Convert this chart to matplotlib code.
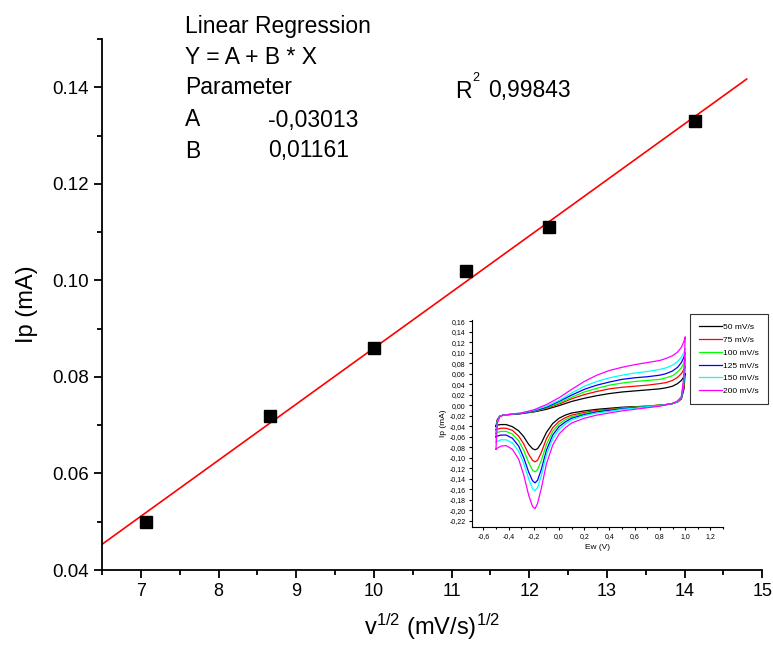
import numpy as np
import matplotlib
matplotlib.use("Agg")
import matplotlib.pyplot as plt
from matplotlib.ticker import MultipleLocator, FuncFormatter

plt.rcParams['font.family'] = ['Liberation Sans', 'DejaVu Sans']

# main plot: peak current vs square root of scan rate
sqrt_v = [7.07, 8.66, 10.0, 11.18, 12.25, 14.14]
ip = [0.050, 0.072, 0.086, 0.102, 0.111, 0.133]
fit_A = -0.03013
fit_B = 0.01161
fit_R2 = "0,99843"

# inset: cyclic voltammograms
rates = ["50 mV/s", "75 mV/s", "100 mV/s", "125 mV/s", "150 mV/s", "200 mV/s"]
colors = ["#000000", "#ff0000", "#00ff00", "#0000ff", "#00ffff", "#ff00ff"]

E_fwd = [-0.50, -0.49, -0.47, -0.44, -0.40, -0.30, -0.20, -0.10, 0.00, 0.10, 0.20, 0.30,
         0.40, 0.50, 0.60, 0.70, 0.80, 0.85, 0.90, 0.94, 0.97, 0.99, 1.00]
I_fwd = [
    [-0.040, -0.028, -0.021, -0.019, -0.018, -0.016, -0.013, -0.008, -0.001, 0.007, 0.013, 0.018,
     0.022, 0.025, 0.027, 0.029, 0.031, 0.033, 0.036, 0.041, 0.047, 0.054, 0.060],
    [-0.047, -0.030, -0.021, -0.019, -0.018, -0.016, -0.012, -0.006, 0.002, 0.012, 0.020, 0.026,
     0.031, 0.034, 0.036, 0.038, 0.041, 0.043, 0.047, 0.053, 0.060, 0.068, 0.075],
    [-0.054, -0.031, -0.021, -0.019, -0.018, -0.016, -0.012, -0.005, 0.004, 0.015, 0.025, 0.032,
     0.038, 0.042, 0.045, 0.047, 0.049, 0.052, 0.056, 0.063, 0.071, 0.080, 0.088],
    [-0.061, -0.032, -0.021, -0.019, -0.018, -0.016, -0.011, -0.004, 0.007, 0.019, 0.030, 0.038,
     0.044, 0.049, 0.052, 0.054, 0.057, 0.060, 0.065, 0.072, 0.081, 0.091, 0.100],
    [-0.071, -0.033, -0.021, -0.019, -0.018, -0.015, -0.010, -0.002, 0.009, 0.023, 0.036, 0.045,
     0.052, 0.057, 0.061, 0.064, 0.068, 0.071, 0.076, 0.083, 0.091, 0.100, 0.108],
    [-0.084, -0.035, -0.022, -0.019, -0.018, -0.015, -0.009, 0.001, 0.014, 0.030, 0.045, 0.057,
     0.066, 0.072, 0.077, 0.081, 0.085, 0.089, 0.094, 0.101, 0.110, 0.121, 0.130],
]

E_rev = [1.00, 0.99, 0.97, 0.94, 0.90, 0.85, 0.80, 0.70, 0.60, 0.50, 0.40, 0.30, 0.20, 0.10,
         0.05, 0.00, -0.05, -0.10, -0.14, -0.17, -0.19, -0.21, -0.24, -0.28, -0.32, -0.37,
         -0.42, -0.46, -0.49, -0.50]
I_rev = [
    [0.060, 0.030, 0.012, 0.006, 0.003, 0.001, 0.000, -0.002, -0.003, -0.004, -0.006, -0.008,
     -0.011, -0.015, -0.019, -0.025, -0.035, -0.052, -0.072, -0.083, -0.085, -0.083, -0.075,
     -0.060, -0.049, -0.041, -0.037, -0.037, -0.038, -0.040],
    [0.075, 0.035, 0.012, 0.006, 0.003, 0.001, 0.000, -0.002, -0.004, -0.005, -0.008, -0.010,
     -0.014, -0.019, -0.024, -0.031, -0.043, -0.064, -0.090, -0.105, -0.108, -0.105, -0.094,
     -0.074, -0.059, -0.048, -0.044, -0.044, -0.046, -0.047],
    [0.088, 0.040, 0.013, 0.006, 0.003, 0.001, 0.000, -0.002, -0.004, -0.006, -0.009, -0.012,
     -0.016, -0.022, -0.028, -0.036, -0.050, -0.075, -0.105, -0.123, -0.127, -0.124, -0.110,
     -0.086, -0.068, -0.055, -0.050, -0.050, -0.052, -0.054],
    [0.100, 0.045, 0.014, 0.007, 0.003, 0.001, -0.001, -0.003, -0.005, -0.007, -0.010, -0.013,
     -0.018, -0.025, -0.032, -0.041, -0.057, -0.086, -0.122, -0.143, -0.148, -0.144, -0.128,
     -0.100, -0.078, -0.063, -0.057, -0.057, -0.059, -0.061],
    [0.108, 0.048, 0.015, 0.007, 0.003, 0.001, -0.001, -0.003, -0.006, -0.008, -0.012, -0.015,
     -0.020, -0.028, -0.036, -0.046, -0.064, -0.095, -0.134, -0.157, -0.163, -0.159, -0.141,
     -0.111, -0.088, -0.072, -0.066, -0.066, -0.069, -0.071],
    [0.130, 0.055, 0.016, 0.008, 0.003, 0.001, -0.002, -0.005, -0.008, -0.011, -0.015, -0.019,
     -0.025, -0.034, -0.043, -0.055, -0.076, -0.112, -0.158, -0.187, -0.197, -0.193, -0.172,
     -0.133, -0.103, -0.084, -0.077, -0.078, -0.082, -0.084],
]

fig = plt.figure(figsize=(7.73, 6.5), dpi=100)
ax = fig.add_axes([0.132, 0.123, 0.854, 0.817])

xfit = np.array([6.5, 14.8])
ax.plot(xfit, fit_A + fit_B * xfit, color="red", lw=1.2, zorder=2)
ax.plot(sqrt_v, ip, "s", color="black", ms=8, zorder=3)

ax.set_xlim(6.5, 15)
ax.set_ylim(0.04, 0.15)
ax.xaxis.set_major_locator(MultipleLocator(1))
ax.xaxis.set_minor_locator(MultipleLocator(0.5))
ax.yaxis.set_minor_locator(MultipleLocator(0.01))
ax.set_yticks([0.04, 0.06, 0.08, 0.10, 0.12, 0.14])
ax.yaxis.set_major_formatter(FuncFormatter(lambda v, p: "%.2f" % v))
for s in ["top", "right"]:
    ax.spines[s].set_visible(False)
for s in ["left", "bottom"]:
    ax.spines[s].set_linewidth(1.3)
ax.tick_params(which="major", direction="out", length=6, width=1.3, labelsize=13.5)
ax.tick_params(axis="x", which="major", labelsize=13)
ax.tick_params(which="minor", direction="out", length=3.5, width=1.3)
ax.set_xlabel(r"$\mathregular{v^{1/2}}$ (mV/s)$\mathregular{^{1/2}}$", fontsize=17, labelpad=8)
ax.set_ylabel("Ip (mA)", fontsize=17, labelpad=10)

# regression text block
tx = 185 / 773
rows = [27, 58, 88, 120, 151]
def fy(py):
    return 1 - py / 650
fig.text(tx, fy(rows[0]), "Linear Regression", fontsize=16.5, va="center")
fig.text(tx, fy(rows[1]), "Y = A + B * X", fontsize=16.5, va="center")
fig.text(tx, fy(rows[2]), "Parameter", fontsize=16.5, va="center")
fig.text(tx, fy(rows[3]), "A", fontsize=16.5, va="center")
fig.text(268 / 773, fy(rows[3]), "-0,03013", fontsize=16.5, va="center")
fig.text(tx, fy(rows[4]), "B", fontsize=16.5, va="center")
fig.text(268 / 773, fy(rows[4]), "0,01161", fontsize=16.5, va="center")
fig.text(455 / 773, fy(91), "R", fontsize=16.5, va="center")
fig.text(472 / 773, fy(78), "2", fontsize=9, va="center")
fig.text(488 / 773, fy(91), fit_R2, fontsize=16.5, va="center")

# inset
axi = fig.add_axes([472 / 773, 1 - 527 / 650, 251 / 773, 207 / 650])
for k in range(len(rates)):
    E = E_fwd + E_rev
    I = I_fwd[k] + I_rev[k]
    axi.plot(E, I, color=colors[k], lw=0.9, label=rates[k])
axi.set_xlim(-0.69, 1.3)
axi.set_ylim(-0.232, 0.162)
axi.xaxis.set_minor_locator(MultipleLocator(0.1))
axi.set_xticks(np.arange(-0.6, 1.21, 0.2))
axi.set_yticks(np.arange(-0.22, 0.161, 0.02))
axi.xaxis.set_major_formatter(FuncFormatter(lambda v, p: ("%.1f" % v).replace(".", ",").replace("-0,0", "0,0")))
axi.yaxis.set_major_formatter(FuncFormatter(lambda v, p: ("%.2f" % v).replace(".", ",").replace("-0,00", "0,00")))
for s in ["top", "right"]:
    axi.spines[s].set_visible(False)
for s in ["left", "bottom"]:
    axi.spines[s].set_linewidth(0.8)
axi.tick_params(which="major", direction="out", length=2.5, width=0.8, labelsize=5, pad=2)
axi.tick_params(which="minor", direction="out", length=1.5, width=0.8)
axi.set_xlabel("Ew (V)", fontsize=6, labelpad=3)
axi.set_ylabel("Ip (mA)", fontsize=6, labelpad=2)

leg = axi.legend(loc="upper left", bbox_to_anchor=(690 / 773, 1 - 314 / 650),
                 bbox_transform=fig.transFigure, fontsize=6, frameon=True, fancybox=False,
                 edgecolor="black", handlelength=2.7, borderpad=1.1, labelspacing=0.6,
                 handletextpad=0.2, borderaxespad=0)
leg.get_frame().set_linewidth(0.8)

fig.savefig("out.png", dpi=100)
